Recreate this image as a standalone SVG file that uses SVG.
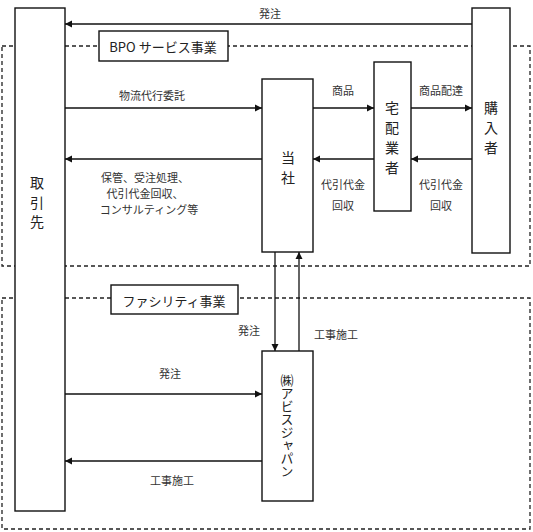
<svg xmlns="http://www.w3.org/2000/svg" width="533" height="532" viewBox="0 0 533 532">
<style>
text{font-family:"Noto Sans CJK JP","Noto Sans CJK SC",sans-serif;fill:#222;text-anchor:middle;dominant-baseline:central}
.lbl{font-size:11px;fill:#333}
.node{font-size:14px}
.box{fill:#fff;stroke:#111;stroke-width:1.4}
.dash{fill:none;stroke:#222;stroke-width:1.3;stroke-dasharray:4 3}
.ln{fill:none;stroke:#111;stroke-width:1.3}
</style>
<defs>
<marker id="ah" markerWidth="8" markerHeight="8" refX="7" refY="4" orient="auto" markerUnits="userSpaceOnUse">
<path d="M0,0.5 L7,4 L0,7.5 Z" fill="#111"/>
</marker>
</defs>
<rect width="533" height="532" fill="#fff"/>
<g id="areas">
<rect class="dash" x="2" y="46" width="528" height="220"/>
<rect class="dash" x="2" y="298" width="528" height="231"/>
</g>
<g id="connectors">
<line class="ln" x1="472" y1="24" x2="65" y2="24" marker-end="url(#ah)"/>
<line class="ln" x1="65" y1="108" x2="262" y2="108" marker-end="url(#ah)"/>
<line class="ln" x1="262" y1="159" x2="65" y2="159" marker-end="url(#ah)"/>
<line class="ln" x1="313" y1="108" x2="374" y2="108" marker-end="url(#ah)"/>
<line class="ln" x1="411" y1="108" x2="472" y2="108" marker-end="url(#ah)"/>
<line class="ln" x1="374" y1="159" x2="313" y2="159" marker-end="url(#ah)"/>
<line class="ln" x1="472" y1="159" x2="411" y2="159" marker-end="url(#ah)"/>
<line class="ln" x1="275" y1="252" x2="275" y2="351" marker-end="url(#ah)"/>
<line class="ln" x1="299" y1="351" x2="299" y2="252" marker-end="url(#ah)"/>
<line class="ln" x1="65" y1="394" x2="262" y2="394" marker-end="url(#ah)"/>
<line class="ln" x1="262" y1="461" x2="65" y2="461" marker-end="url(#ah)"/>
</g>
<g id="labels">
<text class="lbl" x="270" y="13">発注</text>
<text class="lbl" x="152" y="95">物流代行委託</text>
<text class="lbl" x="145" y="177">保管、受注処理、</text>
<text class="lbl" x="145" y="193">代引代金回収、</text>
<text class="lbl" x="149" y="209">コンサルティング等</text>
<text class="lbl" x="343" y="90">商品</text>
<text class="lbl" x="441" y="90">商品配達</text>
<text class="lbl" x="343" y="184">代引代金</text>
<text class="lbl" x="343" y="205">回収</text>
<text class="lbl" x="441" y="184">代引代金</text>
<text class="lbl" x="441" y="205">回収</text>
<text class="lbl" x="249" y="330">発注</text>
<text class="lbl" x="336" y="334">工事施工</text>
<text class="lbl" x="170" y="373">発注</text>
<text class="lbl" x="172" y="480">工事施工</text>
</g>
<g id="bpo-title">
<rect class="box" x="99" y="31" width="129" height="30"/>
<text x="163" y="46" font-size="13">BPO サービス事業</text>
</g>
<g id="facility-title">
<rect class="box" x="111" y="285" width="127" height="29"/>
<text x="174" y="300" font-size="13">ファシリティ事業</text>
</g>
<g id="torihikisaki">
<rect class="box" x="15" y="8" width="50" height="503"/>
<text class="node" x="37" y="182">取</text>
<text class="node" x="37" y="202">引</text>
<text class="node" x="37" y="221">先</text>
</g>
<g id="konyusha">
<rect class="box" x="472" y="8" width="38" height="245"/>
<text class="node" x="491" y="107">購</text>
<text class="node" x="491" y="127">入</text>
<text class="node" x="491" y="147">者</text>
</g>
<g id="tosha">
<rect class="box" x="262" y="79" width="51" height="173"/>
<text class="node" x="288" y="157">当</text>
<text class="node" x="288" y="177">社</text>
</g>
<g id="takuhai">
<rect class="box" x="374" y="62" width="37" height="149"/>
<text class="node" x="392" y="107">宅</text>
<text class="node" x="392" y="127">配</text>
<text class="node" x="392" y="147">業</text>
<text class="node" x="392" y="167">者</text>
</g>
<g id="abisjapan">
<rect class="box" x="262" y="351" width="51" height="150"/>
<text x="287" y="426" font-size="13" style="writing-mode:vertical-rl;dominant-baseline:auto">㈱アビスジャパン</text>
</g>
</svg>
